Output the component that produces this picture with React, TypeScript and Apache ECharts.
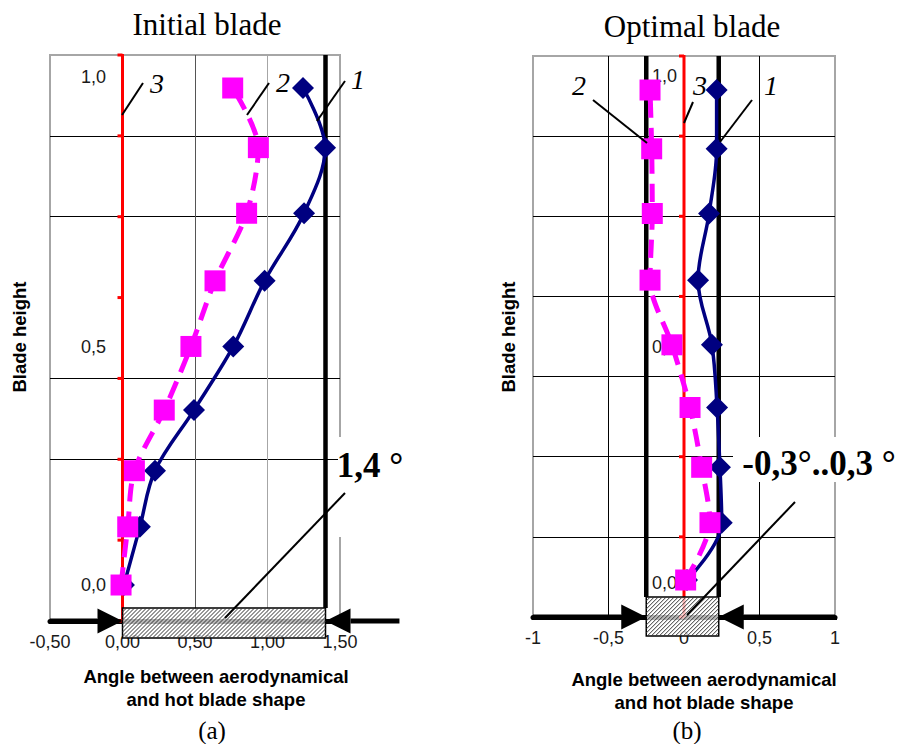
import React, { useEffect, useRef } from 'react';
import * as echarts from 'echarts';

// ---------------- data ----------------
// Relative blade height of the measured sections (shared by both panels)
const heights = [0, 0.117, 0.23, 0.352, 0.48, 0.612, 0.748, 0.88, 1.0];

// (a) Initial blade: angle between aerodynamical and hot blade shape, degrees
const initialCurve1 = [0.01, 0.12, 0.224, 0.493, 0.764, 0.98, 1.252, 1.397, 1.245];
const initialCurve2 = [-0.01, 0.036, 0.082, 0.288, 0.472, 0.638, 0.856, 0.937, 0.76];
// curve 3: the aerodynamical shape itself (zero angle)
const curve3 = [0];

// (b) Optimal blade
const optimalCurve1 = [0.02, 0.25, 0.238, 0.219, 0.185, 0.093, 0.166, 0.216, 0.216];
const optimalCurve2 = [0.011, 0.172, 0.117, 0.04, -0.08, -0.225, -0.21, -0.214, -0.225];

// Spread of the angle (hatched band) and its bounding lines
const initialBand = [0, 1.4];
const initialBoundLines = [1.4];
const initialArrowStarts = [-0.5, 1.91];
const optimalBand = [-0.25, 0.23];
const optimalBoundLines = [-0.25, 0.23];
const optimalArrowStarts = [-1, 1];

// Tick labels
const initialXTicks = ['-0,50', '0,00', '0,50', '1,00', '1,50'];
const optimalXTicks = ['-1', '-0,5', '0', '0,5', '1'];
const heightLabels = ['1,0', '0,5', '0,0'];

// ---------------- styling ----------------
const SANS = '"Liberation Sans", Arial, sans-serif';
const SERIF = '"Liberation Serif", "Times New Roman", serif';
const TR = 'rgba(0,0,0,0)';
const NAVY = '#000080';
const MAGENTA = '#ff00ff';
const GRID_UNITS = 7;

const zip = (xs: number[], ys: number[]) => xs.map((x, i) => [x, ys[i]]);

function xAxisCfg(gi: number, min: number, max: number, labels: string[], splitColors: string[]) {
  return {
    type: 'value', gridIndex: gi, min, max, interval: 0.5,
    axisLine: { onZero: false, lineStyle: { color: '#000', width: 5 } },
    axisTick: { show: true, length: 3, lineStyle: { color: '#000', width: 3 } },
    axisLabel: {
      margin: 12, fontSize: 18, fontFamily: SANS, color: '#1a1a1a',
      formatter: (v: number) => labels[Math.round((v - min) / 0.5)] ?? '',
    },
    splitLine: { show: true, lineStyle: { color: splitColors, width: 1 } },
  };
}

function yAxes(gi: number, dMin: number, dMax: number, splitColors: string[]) {
  return [
    { type: 'value', gridIndex: gi, min: dMin, max: dMax, show: false, position: 'left' },
    {
      type: 'value', gridIndex: gi, min: 0, max: GRID_UNITS, interval: 1, position: 'left',
      axisLine: { show: false }, axisTick: { show: false }, axisLabel: { show: false },
      splitLine: { show: true, lineStyle: { color: splitColors, width: 1 } },
    },
  ];
}

const zeroLineRender = (params: any, api: any) => {
  const x = api.value(0);
  const children: any[] = [];
  const a = api.coord([x, 0]);
  const b = api.coord([x, GRID_UNITS]);
  children.push({ type: 'line', shape: { x1: a[0], y1: a[1], x2: b[0], y2: b[1] - 1 }, style: { stroke: '#ff0000', lineWidth: 3 } });
  for (let g = 0; g <= GRID_UNITS; g++) {
    const p = api.coord([x, g]);
    children.push({ type: 'line', shape: { x1: p[0] - 5, y1: p[1], x2: p[0], y2: p[1] }, style: { stroke: '#ff0000', lineWidth: 3 } });
  }
  return { type: 'group', children };
};

const boundRender = (upOffset: number) => (params: any, api: any) => {
  const x = api.value(0);
  const top = api.coord([x, GRID_UNITS]);
  const base = api.coord([x, 0]);
  return {
    type: 'line',
    shape: { x1: top[0], y1: top[1], x2: base[0], y2: base[1] - upOffset },
    style: { stroke: '#000', lineWidth: 4.5 },
  };
};

const bandRender = (upOffset: number, downOffset: number) => (params: any, api: any) => {
  const a = api.coord([api.value(0), 0]);
  const b = api.coord([api.value(1), 0]);
  const left = a[0], right = b[0], top = a[1] - upOffset, bottom = a[1] + downOffset;
  const h = bottom - top;
  const children: any[] = [
    { type: 'rect', shape: { x: left, y: top, width: right - left, height: h },
      style: { fill: 'rgba(255,255,255,0.72)', stroke: '#000', lineWidth: 1.5 } },
  ];
  for (let s = left - h; s < right; s += 4) {
    let xa = s, ya = bottom, xb = s + h, yb = top;
    if (xa < left) { ya = bottom - (left - xa); xa = left; }
    if (xb > right) { yb = top + (xb - right); xb = right; }
    if (xb <= xa) continue;
    children.push({ type: 'line', shape: { x1: xa, y1: ya, x2: xb, y2: yb }, style: { stroke: '#333', lineWidth: 1 } });
  }
  return { type: 'group', children };
};

const arrowRender = (params: any, api: any) => {
  const s = api.coord([api.value(0), 0]);
  const t = api.coord([api.value(1), 0]);
  const dir = Math.sign(t[0] - s[0]);
  const len = 25, half = 12.5;
  const bx = t[0] - dir * len;
  return {
    type: 'group',
    children: [
      { type: 'line', shape: { x1: s[0], y1: s[1], x2: bx, y2: t[1] }, style: { stroke: '#000', lineWidth: 5 } },
      { type: 'polygon', shape: { points: [[t[0], t[1]], [bx, t[1] - half], [bx, t[1] + half]] }, style: { fill: '#000' } },
    ],
  };
};

function curveSeries(xi: number, yi: number, xs: number[], kind: 1 | 2) {
  if (kind === 1) {
    return {
      type: 'line', xAxisIndex: xi, yAxisIndex: yi, data: zip(xs, heights), z: 3,
      symbol: 'diamond', symbolSize: 22, smooth: 0.35,
      lineStyle: { color: NAVY, width: 3.5 }, itemStyle: { color: NAVY },
    };
  }
  return {
    type: 'line', xAxisIndex: xi, yAxisIndex: yi, data: zip(xs, heights), z: 4,
    symbol: 'rect', symbolSize: 21, smooth: 0.3,
    lineStyle: { color: MAGENTA, width: 5, type: [18, 10] }, itemStyle: { color: MAGENTA },
  };
}

function text(t: string, x: number, y: number, font: string, extra: any = {}, z = 5, el: any = {}) {
  return { type: 'text', x, y, z, ...el, style: { text: t, font, fill: '#000', align: 'center', verticalAlign: 'middle', ...extra } };
}
function leader(x1: number, y1: number, x2: number, y2: number) {
  return { type: 'line', z: 8, shape: { x1, y1, x2, y2 }, style: { stroke: '#000', lineWidth: 2 } };
}

const leftLabelX = 106;
const rightLabelX = 677;
const leftLabelY = [77, 347, 585];
const rightLabelY = [76, 347, 583];

export default function App() {
  const ref = useRef<HTMLDivElement>(null);
  useEffect(() => {
    if (!ref.current) return;
    const chart = echarts.init(ref.current, undefined, { renderer: 'svg' });
    const option: any = {
      animation: false,
      grid: [
        { left: 50, top: 55, width: 290, height: 566, show: true, borderColor: '#a6a6a6', borderWidth: 2, backgroundColor: TR },
        { left: 533, top: 56, width: 302, height: 561, show: true, borderColor: '#a6a6a6', borderWidth: 2, backgroundColor: TR },
      ],
      xAxis: [
        xAxisCfg(0, -0.5, 1.5, initialXTicks, [TR, TR, '#555', '#a6a6a6', TR]),
        xAxisCfg(1, -1, 1, optimalXTicks, [TR, '#000', TR, '#000', TR]),
      ],
      yAxis: [
        ...yAxes(0, -0.0724, 1.0664, [TR, TR, '#000', '#000', TR, '#000', '#000', TR]),
        ...yAxes(1, -0.0755, 1.0694, [TR, '#000', '#000', '#000', '#000', '#000', '#000', TR]),
      ],
      series: [
        { type: 'custom', xAxisIndex: 0, yAxisIndex: 1, clip: false, z: 2, data: curve3.map(v => [v]), renderItem: zeroLineRender },
        { type: 'custom', xAxisIndex: 1, yAxisIndex: 3, clip: false, z: 2, data: curve3.map(v => [v]), renderItem: zeroLineRender },
        curveSeries(0, 0, initialCurve1, 1),
        curveSeries(0, 0, initialCurve2, 2),
        curveSeries(1, 2, optimalCurve1, 1),
        curveSeries(1, 2, optimalCurve2, 2),
        { type: 'custom', xAxisIndex: 0, yAxisIndex: 1, clip: false, z: 3, data: initialBoundLines.map(v => [v]), renderItem: boundRender(13) },
        { type: 'custom', xAxisIndex: 1, yAxisIndex: 3, clip: false, z: 3, data: optimalBoundLines.map(v => [v]), renderItem: boundRender(20) },
        { type: 'custom', xAxisIndex: 0, yAxisIndex: 1, clip: false, z: 6, data: [initialBand], renderItem: bandRender(13, 17) },
        { type: 'custom', xAxisIndex: 1, yAxisIndex: 3, clip: false, z: 6, data: [optimalBand], renderItem: bandRender(20, 19) },
        { type: 'custom', xAxisIndex: 0, yAxisIndex: 1, clip: false, z: 7, data: initialArrowStarts.map((s, i) => [s, initialBand[i]]), renderItem: arrowRender },
        { type: 'custom', xAxisIndex: 1, yAxisIndex: 3, clip: false, z: 7, data: optimalArrowStarts.map((s, i) => [s, optimalBand[i]]), renderItem: arrowRender },
      ],
      graphic: [
        // white boxes behind the big labels
        { type: 'rect', z: 1, shape: { x: 338, y: 437, width: 80, height: 100 }, style: { fill: '#fff' } },
        { type: 'rect', z: 1, shape: { x: 733, y: 437, width: 165, height: 45 }, style: { fill: '#fff' } },
        // titles
        text('Initial blade', 207, 24, `31px ${SERIF}`),
        text('Optimal blade', 692, 26, `31px ${SERIF}`),
        // axis names
        text('Angle between aerodynamical\nand hot blade shape', 216, 688, `bold 18.5px ${SANS}`, { lineHeight: 23 }),
        text('Angle between aerodynamical\nand hot blade shape', 704, 691, `bold 18.5px ${SANS}`, { lineHeight: 23 }),
        text('Blade height', 19, 337, `bold 18.5px ${SANS}`, {}, 5, { rotation: Math.PI / 2 }),
        text('Blade height', 508, 337, `bold 18.5px ${SANS}`, {}, 5, { rotation: Math.PI / 2 }),
        // captions
        text('(a)', 212, 730, `25px ${SERIF}`),
        text('(b)', 687, 730, `25px ${SERIF}`),
        // height labels
        ...heightLabels.map((t, i) => text(t, leftLabelX, leftLabelY[i], `18px ${SANS}`, { align: 'right', fill: '#1a1a1a' }, 1)),
        ...heightLabels.map((t, i) => text(t, rightLabelX, rightLabelY[i], `18px ${SANS}`, { align: 'right', fill: '#1a1a1a' }, 1)),
        // big labels
        text('1,4 °', 370, 465, `bold 35px ${SERIF}`, {}, 5),
        text('-0,3°..0,3 °', 819, 463, `bold 35px ${SERIF}`, {}, 5),
        // curve numbers
        text('3', 157, 83, `italic 28px ${SERIF}`),
        text('2', 283, 82, `italic 28px ${SERIF}`),
        text('1', 358, 79, `italic 28px ${SERIF}`),
        text('2', 579, 85, `italic 28px ${SERIF}`),
        text('3', 700, 85, `italic 28px ${SERIF}`),
        text('1', 771, 85, `italic 28px ${SERIF}`),
        // leader lines
        leader(122, 115, 143, 83),
        leader(247, 115, 269, 83),
        leader(317, 121, 345, 81),
        leader(345, 493, 225, 618),
        leader(593, 100, 647, 143),
        leader(693, 102, 684, 123),
        leader(752, 100, 720, 142),
        leader(795, 502, 687, 615),
      ],
    };
    chart.setOption(option);
    return () => chart.dispose();
  }, []);
  return <div ref={ref} style={{ position: 'absolute', left: 0, top: 0, width: 898, height: 744 }} />;
}
